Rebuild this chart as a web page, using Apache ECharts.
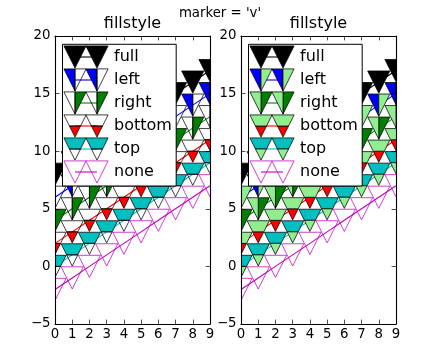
<!DOCTYPE html>
<html><head><meta charset="utf-8">
<script src="https://cdn.jsdelivr.net/npm/echarts@6/dist/echarts.min.js"></script>
<style>html,body{margin:0;padding:0;background:#fff}#c{width:440px;height:360px}</style>
</head><body><div id="c"></div>
<script>
// ---- data ----
const xValues = [0, 1, 2, 3, 4, 5, 6, 7, 8, 9];
const fillStyles = ['full', 'left', 'right', 'bottom', 'top', 'none'];
const seriesColors = ['#000000', '#0000ff', '#008000', '#ff0000', '#00bfbf', '#bf00bf'];
const fullValues = [8, 9, 10, 11, 12, 13, 14, 15, 16, 17];
const leftValues = [6, 7, 8, 9, 10, 11, 12, 13, 14, 15];
const rightValues = [4, 5, 6, 7, 8, 9, 10, 11, 12, 13];
const bottomValues = [2, 3, 4, 5, 6, 7, 8, 9, 10, 11];
const topValues = [0, 1, 2, 3, 4, 5, 6, 7, 8, 9];
const noneValues = [-2, -1, 0, 1, 2, 3, 4, 5, 6, 7];
const xTicks = [0, 1, 2, 3, 4, 5, 6, 7, 8, 9];
const yTicks = [-5, 0, 5, 10, 15, 20];
const panelTitles = ['fillstyle', 'fillstyle'];
const altColors = ['none', '#90ee90'];
const figTitle = "marker = 'v'";

const allValues = [fullValues, leftValues, rightValues, bottomValues, topValues, noneValues];

// ---- layout ----
const FONT = 'DejaVu Sans';
const S = 11.1; // marker half-size
const grids = [{left: 55, right: 230, top: 36, bottom: 36}, {left: 241, right: 44, top: 36, bottom: 36}];

function markerShapes(cx, cy, style, color, alt, z) {
  const A = [cx - S, cy - S], B = [cx + S, cy - S], C = [cx, cy + S], M = [cx, cy - S];
  const L = [cx - S / 2, cy], R = [cx + S / 2, cy];
  const edge = '#000';
  const lw = 0.75;
  const poly = (pts, fill, stroke) => {
    const el = {type: 'polygon', shape: {points: pts}, style: {fill: fill, stroke: stroke || edge, lineWidth: lw}};
    if (z !== undefined) el.z = z;
    return el;
  };
  if (style === 'full') return [poly([A, B, C], color)];
  if (style === 'none') return [poly([A, B, C], 'none', color)];
  let main, other;
  if (style === 'left') { main = [A, M, C]; other = [M, B, C]; }
  else if (style === 'right') { main = [M, B, C]; other = [A, M, C]; }
  else if (style === 'top') { main = [A, B, R, L]; other = [L, R, C]; }
  else { main = [L, R, C]; other = [A, B, R, L]; }
  return [poly(main, color), poly(other, alt)];
}

const xAxes = [], yAxes = [], series = [], graphics = [], titles = [];
titles.push({text: figTitle, left: 220, top: 13.5, textAlign: 'center', textVerticalAlign: 'middle', padding: 0,
  textStyle: {fontFamily: FONT, fontSize: 13.3, fontWeight: 'normal', color: '#000'}});

grids.forEach((g, gi) => {
  const axisLine = {show: true, onZero: false, lineStyle: {color: '#000', width: 1.1}};
  const tick = {show: true, inside: true, length: 4.4, lineStyle: {color: '#000', width: 0.7}};
  const lbl = {fontFamily: FONT, fontSize: 13.3, color: '#000'};
  xAxes.push({type: 'value', gridIndex: gi, position: 'bottom', min: xTicks[0], max: xTicks[xTicks.length - 1], interval: 1, z: 50,
    axisLine, axisTick: tick, splitLine: {show: false}, axisLabel: Object.assign({margin: 4}, lbl)});
  xAxes.push({type: 'value', gridIndex: gi, position: 'top', min: xTicks[0], max: xTicks[xTicks.length - 1], interval: 1, z: 50,
    axisLine, axisTick: tick, splitLine: {show: false}, axisLabel: {show: false}});
  yAxes.push({type: 'value', gridIndex: gi, position: 'left', min: yTicks[0], max: yTicks[yTicks.length - 1], interval: 5, z: 50,
    axisLine, axisTick: tick, splitLine: {show: false},
    axisLabel: Object.assign({margin: 4.5, formatter: v => String(v).replace('-', '\u2212')}, lbl)});
  yAxes.push({type: 'value', gridIndex: gi, position: 'right', min: yTicks[0], max: yTicks[yTicks.length - 1], interval: 5, z: 50,
    axisLine, axisTick: tick, splitLine: {show: false}, axisLabel: {show: false}});

  const alt = altColors[gi];
  fillStyles.forEach((fs, k) => {
    const color = seriesColors[k];
    const data = xValues.map((x, i) => [x, allValues[k][i]]);
    series.push({type: 'line', name: fs + gi, xAxisIndex: 2 * gi, yAxisIndex: 2 * gi, data, symbol: 'none', silent: true,
      animation: false, lineStyle: {color, width: 1.1}, z: 2 + 2 * k, clip: true});
    series.push({type: 'custom', name: fs + gi + 'm', xAxisIndex: 2 * gi, yAxisIndex: 2 * gi, data, silent: true,
      animation: false, z: 3 + 2 * k, clip: true,
      renderItem: (params, api) => {
        const c = api.coord([api.value(0), api.value(1)]);
        return {type: 'group', children: markerShapes(c[0], c[1], fs, color, alt)};
      }});
  });

  // panel title
  const cx = g.left + (440 - g.left - g.right) / 2;
  titles.push({text: panelTitles[gi], left: cx, top: 23.8, textAlign: 'center', textVerticalAlign: 'middle', padding: 0,
    textStyle: {fontFamily: FONT, fontSize: 16, fontWeight: 'normal', color: '#000'}});

  // legend (upper left)
  const ZL = 100;
  const lx = g.left + 7.5, ly = 44.3, lw = 113.7, lh = 141.7;
  graphics.push({type: 'rect', z: ZL, shape: {x: lx, y: ly, width: lw, height: lh}, style: {fill: '#fff', stroke: '#000', lineWidth: 1}});
  fillStyles.forEach((fs, k) => {
    const ry = 57 + 23 * k;
    const m1 = g.left + 20, m2 = g.left + 42;
    graphics.push({type: 'line', z: ZL + 1, shape: {x1: m1, y1: ry, x2: m2, y2: ry}, style: {stroke: seriesColors[k], lineWidth: 1.1}});
    markerShapes(m1, ry, fs, seriesColors[k], alt, ZL + 2).forEach(s => graphics.push(s));
    markerShapes(m2, ry, fs, seriesColors[k], alt, ZL + 2).forEach(s => graphics.push(s));
    graphics.push({type: 'text', z: ZL + 2, style: {x: g.left + 59, y: ry, text: fs, font: '16px "DejaVu Sans"', fill: '#000', verticalAlign: 'middle', align: 'left'}});
  });
});

const chart = echarts.init(document.getElementById('c'), null, {renderer: 'canvas'});
chart.setOption({
  animation: false,
  backgroundColor: '#fff',
  title: titles,
  grid: grids.map(g => Object.assign({containLabel: false}, g)),
  xAxis: xAxes,
  yAxis: yAxes,
  series,
  graphic: {elements: graphics}
});
</script>
</body></html>
